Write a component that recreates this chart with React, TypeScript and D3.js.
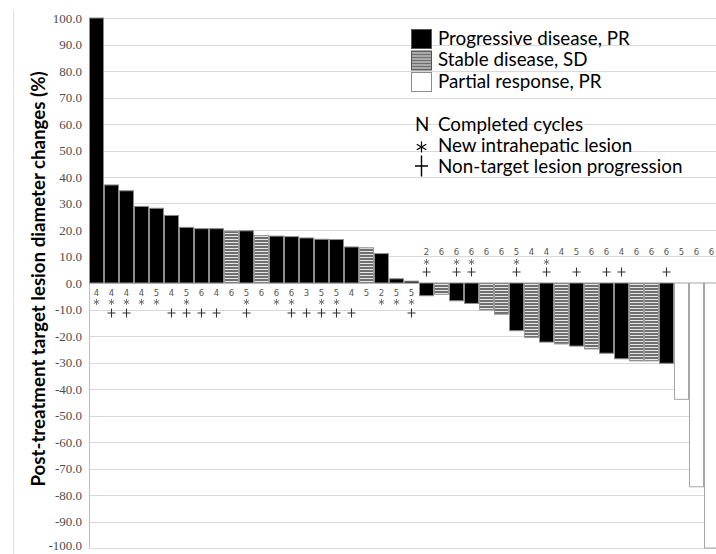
import * as d3 from "d3";

const W = 716;
const H = 554;
const PLOT = { left: 89, top: 18, bottom: 548 };
const BAR_STEP = 15;

// values, sorted as drawn (left to right)
const VALUES = [
	100, 37.0, 34.8, 28.9, 28.2, 25.5, 21.0, 20.5, 20.5, 19.6, 19.7, 17.9, 17.7, 17.5, 17.0, 16.5, 16.4, 13.6, 13.3,
	11.1, 1.6, 0.7, -4.8, -4.3, -6.7, -7.7, -10.2, -11.8, -18.0, -20.6, -22.3, -23.0, -23.8, -24.9, -26.5, -28.6,
	-29.4, -29.4, -30.3, -43.9, -76.9, -100,
];
const RESPONSE = [
	"PD", "PD", "PD", "PD", "PD", "PD", "PD", "PD", "PD", "SD", "PD", "SD", "PD", "PD", "PD", "PD", "PD", "PD", "SD",
	"PD", "PD", "PD", "PD", "SD", "PD", "PD", "SD", "SD", "PD", "SD", "PD", "SD", "PD", "SD", "PD", "PD", "SD", "SD",
	"PD", "PR", "PR", "PR",
];
const CYCLES = [
	4, 4, 4, 4, 5, 4, 5, 6, 4, 6, 5, 6, 6, 6, 3, 5, 5, 4, 5, 2, 5, 5, 2, 6, 6, 6, 6, 6, 5, 4, 4, 4, 5, 6, 6, 4, 6, 6, 6,
	5, 6, 6,
];
const NEW_LESION = [0, 1, 2, 3, 4, 6, 10, 12, 13, 15, 16, 19, 20, 21, 22, 24, 25, 28, 30];
const NON_TARGET = [1, 2, 5, 6, 7, 8, 10, 13, 14, 15, 16, 17, 21, 22, 24, 25, 28, 30, 32, 34, 35, 38];
const Y_TICKS = d3.range(-100, 101, 10);

const LEGEND_BARS = [
	{ key: "PD", label: "Progressive disease, PR" },
	{ key: "SD", label: "Stable disease, SD" },
	{ key: "PR", label: "Partial response, PR" },
];

const FILL: Record<string, string> = { PD: "#000", SD: "url(#stripes)", PR: "#fff" };
const STROKE: Record<string, string> = { PD: "#8c8c8c", SD: "#9a9a9a", PR: "#a6a6a6" };

const LABEL_FONT = "Lato, 'Open Sans', sans-serif";

// six-spoke asterisk centred on (0,0)
function starPath(r: number) {
	return [90, 30, -30]
		.map((a) => {
			const t = (a * Math.PI) / 180;
			const dx = r * Math.cos(t);
			const dy = r * Math.sin(t);
			return `M${-dx},${-dy}L${dx},${dy}`;
		})
		.join("");
}

function plusPath(hw: number, hh: number) {
	return `M${-hw},0L${hw},0M0,${-hh}L0,${hh}`;
}

export default function App() {
	const idx = VALUES.map((_, i) => i);
	const x = d3
		.scaleBand<number>()
		.domain(idx)
		.range([PLOT.left, PLOT.left + VALUES.length * BAR_STEP])
		.padding(0);
	const y = d3.scaleLinear().domain([-100, 100]).range([PLOT.bottom, PLOT.top]);
	const bw = x.bandwidth();
	const y0 = y(0);

	return (
		<svg
			width={W}
			height={H}
			viewBox={`0 0 ${W} ${H}`}
			style={{ position: "absolute", left: 0, top: 0, background: "#fff" }}
		>
			<defs>
				<pattern id="stripes" width={4} height={3} patternUnits="userSpaceOnUse">
					<rect width={4} height={3} fill="#6f6f6f" />
					<rect y={2} width={4} height={1} fill="#e6e6e6" />
				</pattern>
			</defs>

			{/* outer border of the chart area */}
			<line x1={13.5} x2={13.5} y1={10} y2={H} stroke="#e0e0e0" />

			{/* gridlines */}
			{Y_TICKS.map((t) => (
				<line
					key={t}
					x1={PLOT.left}
					x2={W + 10}
					y1={Math.round(y(t)) + 0.5}
					y2={Math.round(y(t)) + 0.5}
					stroke="#d9d9d9"
				/>
			))}
			<line x1={PLOT.left + 0.5} x2={PLOT.left + 0.5} y1={PLOT.top} y2={PLOT.bottom} stroke="#bfbfbf" />

			{/* tick labels (bottom one kept inside the frame) */}
			{Y_TICKS.map((t) => (
				<text
					key={t}
					x={82}
					y={Math.min(y(t), H - 9)}
					dy="0.35em"
					textAnchor="end"
					fontFamily="'Liberation Serif', serif"
					fontSize={13}
					fill="#4d4d4d"
				>
					{t.toFixed(1)}
				</text>
			))}

			<text
				transform={`translate(45,${(PLOT.top + PLOT.bottom) / 2 - 4}) rotate(-90)`}
				textAnchor="middle"
				fontFamily={LABEL_FONT}
				fontWeight="bold"
				fontSize={18.7}
				fill="#000"
			>
				Post-treatment target lesion diameter changes (%)
			</text>

			{/* bars */}
			{VALUES.map((v, i) => {
				const top = Math.min(y(v), y0);
				const h = Math.abs(y(v) - y0);
				return (
					<rect
						key={i}
						x={(x(i) ?? 0) + 0.5}
						y={top}
						width={bw - 1}
						height={Math.max(h, 1)}
						fill={FILL[RESPONSE[i]]}
						stroke={STROKE[RESPONSE[i]]}
						strokeWidth={1}
					/>
				);
			})}

			{/* per-bar annotations: cycles, new lesion, non-target progression */}
			{VALUES.map((v, i) => {
				const cx = (x(i) ?? 0) + bw / 2;
				const pos = v >= 0;
				const nY = pos ? y0 + 10 : y0 - 31;
				const sY = pos ? y0 + 19 : y0 - 21;
				const pY = pos ? y0 + 30 : y0 - 11;
				return (
					<g key={i}>
						<text
							x={cx}
							y={nY}
							dy="0.35em"
							textAnchor="middle"
							fontFamily="'DejaVu Sans', sans-serif"
							fontSize={8.5}
							fill="#555"
						>
							{CYCLES[i]}
						</text>
						{NEW_LESION.includes(i) && (
							<path
								d={starPath(3)}
								transform={`translate(${cx},${sY})`}
								stroke="#777"
								strokeWidth={1}
								fill="none"
							/>
						)}
						{NON_TARGET.includes(i) && (
							<path
								d={plusPath(4, 4.5)}
								transform={`translate(${cx},${pY})`}
								stroke="#333"
								strokeWidth={1.1}
								fill="none"
							/>
						)}
					</g>
				);
			})}

			{/* legend */}
			{LEGEND_BARS.map((d, i) => (
				<g key={d.key} transform={`translate(411,${29 + i * 21.5})`}>
					<rect
						x={0.5}
						y={0.5}
						width={20}
						height={19}
						fill={FILL[d.key]}
						stroke={d.key === "PR" ? "#8c8c8c" : "#555"}
					/>
					<text x={27} y={15.5} fontFamily={LABEL_FONT} fontSize={18.8} fill="#000">
						{d.label}
					</text>
				</g>
			))}

			<g fontFamily={LABEL_FONT} fontSize={18.8} fill="#000">
				<text x={415} y={131}>N</text>
				<text x={438} y={131}>Completed cycles</text>
				<path d={starPath(5.5)} transform="translate(421.5,147)" stroke="#000" strokeWidth={1.2} fill="none" />
				<text x={438} y={152}>New intrahepatic lesion</text>
				<path d={plusPath(6.5, 10.5)} transform="translate(421.5,166)" stroke="#000" strokeWidth={1.4} fill="none" />
				<text x={438} y={173}>Non-target lesion progression</text>
			</g>
		</svg>
	);
}
